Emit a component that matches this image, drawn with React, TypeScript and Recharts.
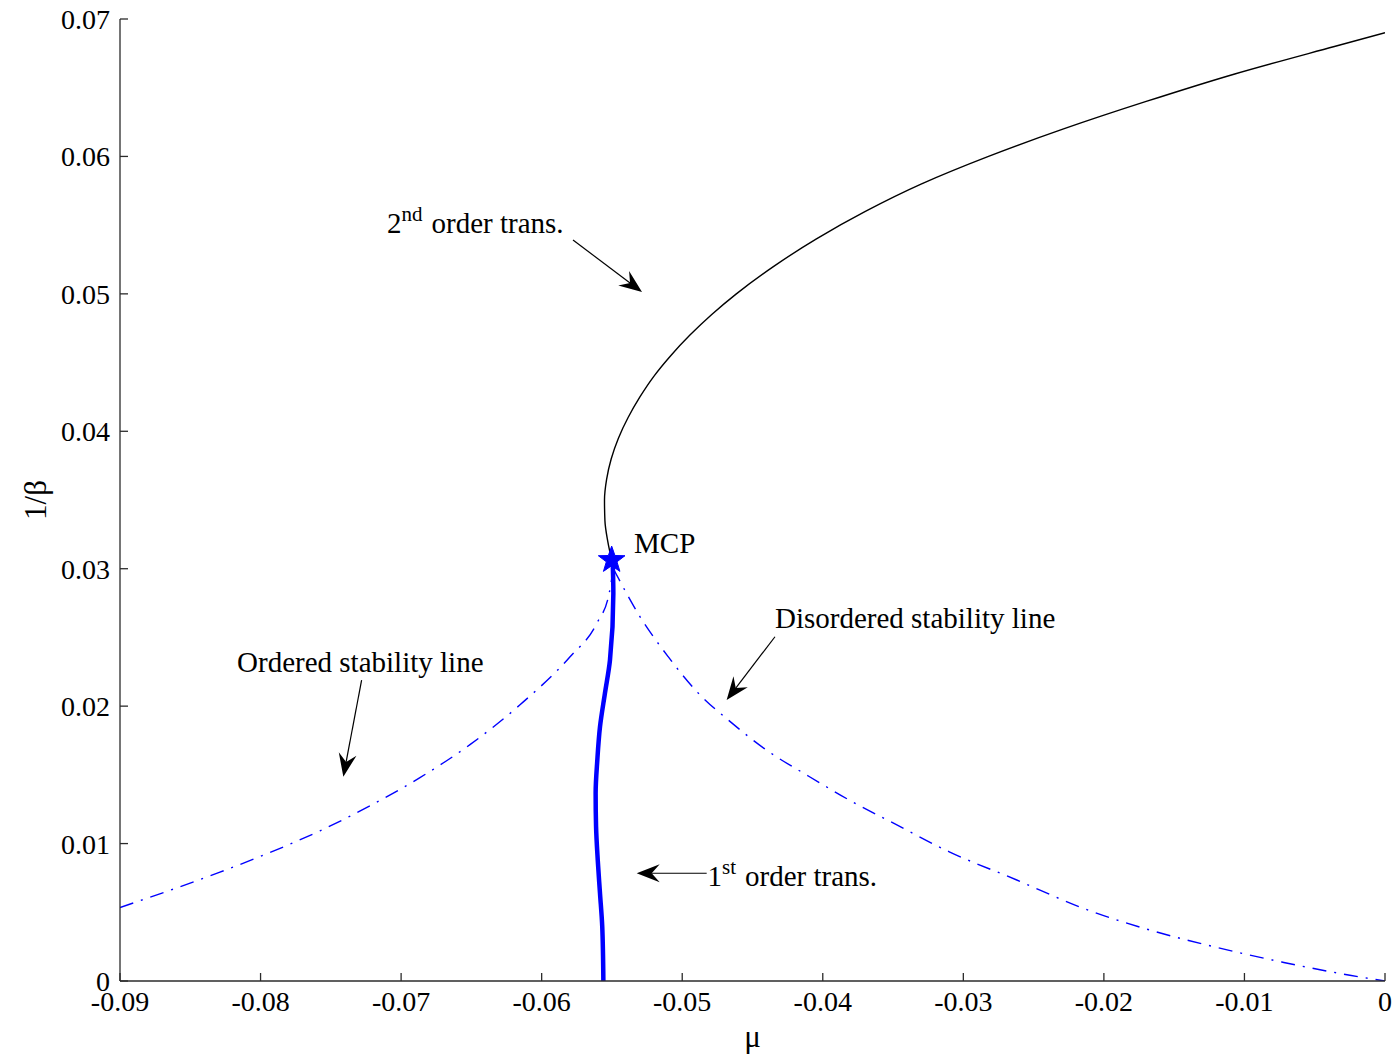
import React from 'react';
import {
  ComposedChart, Line, Scatter, XAxis, YAxis, ReferenceLine, ReferenceDot,
} from 'recharts';

// ---- data ----
const secondOrder = [
  { x: -0.05502, y: 0.03063 }, { x: -0.0553, y: 0.032 }, { x: -0.0555, y: 0.0335 },
  { x: -0.05553, y: 0.035 }, { x: -0.05538, y: 0.0365 }, { x: -0.05505, y: 0.038 },
  { x: -0.05454, y: 0.0395 }, { x: -0.05385, y: 0.041 }, { x: -0.05301, y: 0.0425 },
  { x: -0.05202, y: 0.044 }, { x: -0.05082, y: 0.0455 }, { x: -0.04945, y: 0.047 },
  { x: -0.0479, y: 0.0485 }, { x: -0.04615, y: 0.05 }, { x: -0.04349, y: 0.052 },
  { x: -0.04045, y: 0.054 }, { x: -0.03697, y: 0.056 }, { x: -0.03297, y: 0.058 },
  { x: -0.02821, y: 0.06 }, { x: -0.02287, y: 0.062 }, { x: -0.01699, y: 0.064 },
  { x: -0.01069, y: 0.066 }, { x: -0.0036, y: 0.068 }, { x: 0, y: 0.069 },
];

const firstOrder = [
  { x: -0.05495, y: 0.03063 }, { x: -0.0549, y: 0.0282 }, { x: -0.05514, y: 0.02336 },
  { x: -0.0555, y: 0.02093 }, { x: -0.05585, y: 0.0185 }, { x: -0.05604, y: 0.01608 },
  { x: -0.05616, y: 0.01366 }, { x: -0.05613, y: 0.01123 }, { x: -0.05601, y: 0.0088 },
  { x: -0.05585, y: 0.00638 }, { x: -0.05569, y: 0.00395 }, { x: -0.05561, y: 0 },
];

const orderedStability = [
  { x: -0.09, y: 0.00535 }, { x: -0.08644, y: 0.0066 }, { x: -0.08289, y: 0.00792 },
  { x: -0.07933, y: 0.00935 }, { x: -0.07577, y: 0.01093 }, { x: -0.07221, y: 0.01275 },
  { x: -0.06866, y: 0.0148 }, { x: -0.0651, y: 0.0172 }, { x: -0.06154, y: 0.0201 },
  { x: -0.05798, y: 0.0236 }, { x: -0.05609, y: 0.026 }, { x: -0.0552, y: 0.0282 },
  { x: -0.0549, y: 0.03 },
];

const disorderedStability = [
  { x: -0.0549, y: 0.03 }, { x: -0.053, y: 0.0265 }, { x: -0.051, y: 0.0236 },
  { x: -0.049, y: 0.0211 }, { x: -0.0465, y: 0.0188 }, { x: -0.044, y: 0.0168 },
  { x: -0.041, y: 0.0149 }, { x: -0.038, y: 0.0131 }, { x: -0.035, y: 0.0115 },
  { x: -0.031, y: 0.0094 }, { x: -0.0262, y: 0.00735 }, { x: -0.0215, y: 0.0053 },
  { x: -0.0167, y: 0.0037 }, { x: -0.012, y: 0.00245 }, { x: -0.0072, y: 0.00135 },
  { x: -0.0025, y: 0.00042 }, { x: 0, y: 0 },
];

const mcpPoint = [{ x: -0.05502, y: 0.03063 }];

const xTicks = [-0.09, -0.08, -0.07, -0.06, -0.05, -0.04, -0.03, -0.02, -0.01, 0];
const xTickLabels = ['-0.09', '-0.08', '-0.07', '-0.06', '-0.05', '-0.04', '-0.03', '-0.02', '-0.01', '0'];
const yTicks = [0, 0.01, 0.02, 0.03, 0.04, 0.05, 0.06, 0.07];
const yTickLabels = ['0', '0.01', '0.02', '0.03', '0.04', '0.05', '0.06', '0.07'];

// annotations (data coordinates)
const arrows = [
  { from: { x: -0.05777, y: 0.05392 }, to: { x: -0.05286, y: 0.05013 } },
  { from: { x: -0.0434, y: 0.02505 }, to: { x: -0.04684, y: 0.02045 } },
  { from: { x: -0.07281, y: 0.0219 }, to: { x: -0.07411, y: 0.01487 } },
  { from: { x: -0.04826, y: 0.00784 }, to: { x: -0.05324, y: 0.00784 } },
];

const FONT = '"Liberation Serif", "Times New Roman", serif';
const BLUE = '#0000ff';
const AXIS = '#2b2b2b';

const fmtX = (v: number) => {
  const i = xTicks.findIndex((t) => Math.abs(t - v) < 1e-9);
  return i >= 0 ? xTickLabels[i] : String(v);
};
const fmtY = (v: number) => {
  const i = yTicks.findIndex((t) => Math.abs(t - v) < 1e-9);
  return i >= 0 ? yTickLabels[i] : String(v);
};

const ArrowShape = (props: any) => {
  const { x1, y1, x2, y2 } = props;
  const dx = x2 - x1;
  const dy = y2 - y1;
  const len = Math.sqrt(dx * dx + dy * dy) || 1;
  const ux = dx / len;
  const uy = dy / len;
  const px = -uy;
  const py = ux;
  const L = 23;
  const W = 9;
  const N = 15;
  const bx = x2 - ux * L;
  const by = y2 - uy * L;
  const nx = x2 - ux * N;
  const ny = y2 - uy * N;
  const pts = [
    `${x2},${y2}`,
    `${bx + px * W},${by + py * W}`,
    `${nx},${ny}`,
    `${bx - px * W},${by - py * W}`,
  ].join(' ');
  return (
    <g>
      <line x1={x1} y1={y1} x2={nx} y2={ny} stroke="#000" strokeWidth={1.2} />
      <polygon points={pts} fill="#000" />
    </g>
  );
};

const textStyle = { fontFamily: FONT, fontSize: 29, fill: '#000' } as const;

const makeLabel = (kind: string) => (props: any) => {
  const { cx, cy } = props;
  if (kind === 'second' || kind === 'first') {
    const main = kind === 'second' ? '2' : '1';
    const sup = kind === 'second' ? 'nd' : 'st';
    return (
      <text x={cx} y={cy} style={textStyle}>
        <tspan>{main}</tspan>
        <tspan dy={-12} fontSize={21}>{sup}</tspan>
        <tspan dy={12} dx={9}>order trans.</tspan>
      </text>
    );
  }
  const txt = kind === 'mcp' ? 'MCP' : kind === 'dis' ? 'Disordered stability line' : 'Ordered stability line';
  return (
    <text x={cx} y={cy} style={textStyle}>{txt}</text>
  );
};

const labels = [
  { x: -0.071, y: 0.05443, kind: 'second' },
  { x: -0.05343, y: 0.03117, kind: 'mcp' },
  { x: -0.0434, y: 0.02569, kind: 'dis' },
  { x: -0.08167, y: 0.02251, kind: 'ord' },
  { x: -0.0482, y: 0.00691, kind: 'first' },
];

const StarShape = (props: any) => {
  const { cx, cy } = props;
  const R = 14;
  const r = 5.6;
  const pts: string[] = [];
  for (let i = 0; i < 10; i++) {
    const rad = i % 2 === 0 ? R : r;
    const a = -Math.PI / 2 + (i * Math.PI) / 5;
    pts.push(`${cx + rad * Math.cos(a)},${cy + rad * Math.sin(a)}`);
  }
  return <polygon points={pts.join(' ')} fill={BLUE} stroke={BLUE} strokeWidth={1} />;
};

const tickStyle = { fontFamily: FONT, fontSize: 28, fill: '#000' };

export default function App() {
  return (
    <div style={{ position: 'absolute', left: 0, top: 0, width: 1397, height: 1059, background: '#fff' }}>
      <ComposedChart
        width={1397}
        height={1059}
        margin={{ top: 19, right: 12, bottom: 0, left: 0 }}
      >
        <XAxis
          dataKey="x"
          type="number"
          domain={[-0.09, 0]}
          ticks={xTicks}
          tickFormatter={fmtX}
          allowDataOverflow
          height={78}
          tickSize={-8}
          tickMargin={18}
          stroke={AXIS}
          strokeWidth={1.3}
          tick={tickStyle}
          label={{
            content: (p: any) => {
              const vb = p.viewBox || {};
              return (
                <text x={vb.x + vb.width / 2} y={vb.y + 66} textAnchor="middle"
                  style={{ fontFamily: FONT, fontSize: 31, fill: '#000' }}>μ</text>
              );
            },
          }}
        />
        <XAxis
          xAxisId="top"
          orientation="top"
          type="number"
          domain={[-0.09, 0]}
          ticks={xTicks}
          allowDataOverflow
          height={0}
          tick={false}
          tickSize={-8}
          stroke={AXIS}
          strokeWidth={1.3}
        />
        <YAxis
          dataKey="y"
          type="number"
          domain={[0, 0.07]}
          ticks={yTicks}
          tickFormatter={fmtY}
          allowDataOverflow
          width={120}
          tickSize={-8}
          tickMargin={18}
          stroke={AXIS}
          strokeWidth={1.3}
          tick={tickStyle}
          label={{
            content: (p: any) => {
              const vb = p.viewBox || {};
              const cx = vb.x + 35;
              const cy = vb.y + vb.height / 2;
              return (
                <text x={cx} y={cy} textAnchor="middle" dominantBaseline="central"
                  transform={`rotate(-90, ${cx}, ${cy})`}
                  style={{ fontFamily: FONT, fontSize: 31, fill: '#000' }}>1/β</text>
              );
            },
          }}
        />
        <YAxis
          yAxisId="right"
          orientation="right"
          type="number"
          domain={[0, 0.07]}
          ticks={yTicks}
          allowDataOverflow
          width={0}
          tick={false}
          tickSize={-8}
          stroke={AXIS}
          strokeWidth={1.3}
        />

        <Line data={orderedStability} dataKey="y" type="monotone" stroke={BLUE} strokeWidth={1.4}
          strokeDasharray="14 8 2 8" dot={false} isAnimationActive={false} />
        <Line data={disorderedStability} dataKey="y" type="monotone" stroke={BLUE} strokeWidth={1.4}
          strokeDasharray="14 8 2 8" dot={false} isAnimationActive={false} />
        <Line data={secondOrder} dataKey="y" type="monotoneY" stroke="#000" strokeWidth={1.4}
          dot={false} isAnimationActive={false} />
        <Line data={firstOrder} dataKey="y" type="monotoneY" stroke={BLUE} strokeWidth={4.5}
          dot={false} isAnimationActive={false} />
        <Scatter data={mcpPoint} dataKey="y" shape={StarShape} isAnimationActive={false} />

        {arrows.map((a, i) => (
          <ReferenceLine key={`ar${i}`} segment={[a.from, a.to]} shape={ArrowShape} ifOverflow="visible" />
        ))}
        {labels.map((l, i) => (
          <ReferenceDot key={`lb${i}`} x={l.x} y={l.y} r={0} shape={makeLabel(l.kind)} ifOverflow="visible" />
        ))}
      </ComposedChart>
    </div>
  );
}
